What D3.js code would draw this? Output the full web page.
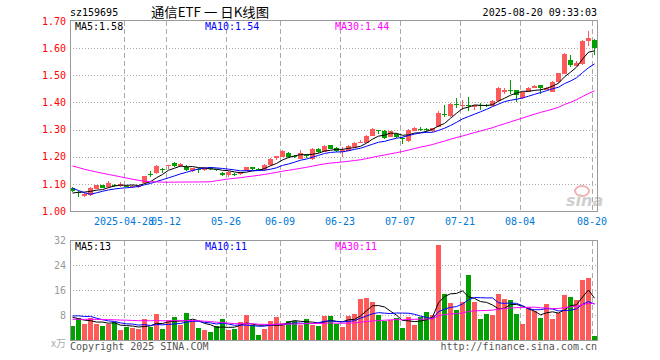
<!DOCTYPE html>
<html><head><meta charset="utf-8">
<script src="https://cdn.jsdelivr.net/npm/d3@7"></script>
<style>
body{margin:0;background:#fff;}
svg{display:block;}
text{font-family:"DejaVu Sans Mono","Liberation Mono",monospace;font-size:10px;}
</style>
</head><body>
<svg id="chart" width="660" height="360"></svg>
<script>
// ---------- data ----------
const dates = ["04-15","04-16","04-17","04-18","04-21","04-22","04-23","04-24","04-25","04-28","04-29","04-30",
"05-06","05-07","05-08","05-09","05-12","05-13","05-14","05-15","05-16","05-19","05-20","05-21","05-22","05-23",
"05-26","05-27","05-28","05-29","05-30","06-03","06-04","06-05","06-06","06-09","06-10","06-11","06-12","06-13",
"06-16","06-17","06-18","06-19","06-20","06-23","06-24","06-25","06-26","06-27","06-30","07-01","07-02","07-03",
"07-04","07-07","07-08","07-09","07-10","07-11","07-14","07-15","07-16","07-17","07-18","07-21","07-22","07-23",
"07-24","07-25","07-28","07-29","07-30","07-31","08-01","08-04","08-05","08-06","08-07","08-08","08-11","08-12",
"08-13","08-14","08-15","08-18","08-19","08-20"];
const opens = [1.085,1.070,1.056,1.060,1.082,1.094,1.087,1.096,1.091,1.093,1.088,1.088,
1.102,1.138,1.140,1.154,1.166,1.176,1.166,1.163,1.148,1.153,1.151,1.161,1.153,1.141,
1.133,1.138,1.135,1.151,1.161,1.155,1.151,1.168,1.197,1.200,1.213,1.204,1.192,1.206,
1.191,1.228,1.219,1.242,1.231,1.219,1.222,1.235,1.254,1.252,1.277,1.299,1.295,1.274,
1.284,1.270,1.258,1.296,1.302,1.301,1.293,1.311,1.356,1.350,1.393,1.386,1.390,1.383,
1.392,1.391,1.388,1.405,1.440,1.447,1.445,1.415,1.440,1.455,1.465,1.447,1.440,1.475,
1.506,1.557,1.536,1.541,1.625,1.631];
const highs = [1.090,1.073,1.068,1.087,1.097,1.096,1.110,1.099,1.106,1.095,1.094,1.095,
1.130,1.146,1.170,1.160,1.171,1.179,1.178,1.168,1.160,1.160,1.163,1.163,1.156,1.145,
1.148,1.141,1.143,1.163,1.161,1.158,1.172,1.197,1.204,1.225,1.218,1.208,1.223,1.211,
1.232,1.231,1.242,1.245,1.234,1.234,1.242,1.255,1.262,1.280,1.305,1.300,1.297,1.296,
1.287,1.272,1.301,1.310,1.308,1.307,1.306,1.368,1.391,1.398,1.416,1.410,1.420,1.392,
1.397,1.393,1.408,1.458,1.452,1.483,1.447,1.440,1.456,1.463,1.466,1.458,1.480,1.510,
1.582,1.576,1.552,1.631,1.662,1.633];
const lows = [1.070,1.053,1.052,1.057,1.080,1.083,1.085,1.088,1.089,1.087,1.086,1.085,
1.100,1.124,1.135,1.140,1.153,1.163,1.163,1.146,1.144,1.141,1.149,1.152,1.147,1.130,
1.126,1.128,1.133,1.149,1.149,1.148,1.149,1.165,1.188,1.198,1.195,1.196,1.190,1.196,
1.189,1.212,1.217,1.228,1.219,1.200,1.220,1.233,1.250,1.250,1.275,1.282,1.265,1.272,
1.270,1.246,1.256,1.294,1.293,1.292,1.291,1.309,1.345,1.347,1.380,1.372,1.370,1.372,
1.373,1.385,1.386,1.403,1.430,1.430,1.400,1.412,1.438,1.452,1.430,1.444,1.438,1.473,
1.504,1.532,1.533,1.538,1.609,1.576];
const closes = [1.075,1.066,1.064,1.084,1.095,1.085,1.103,1.094,1.100,1.091,1.092,1.093,
1.128,1.135,1.165,1.152,1.171,1.165,1.175,1.151,1.157,1.151,1.160,1.154,1.151,1.133,
1.145,1.136,1.141,1.161,1.156,1.154,1.170,1.192,1.204,1.220,1.199,1.200,1.215,1.203,
1.228,1.218,1.240,1.230,1.221,1.226,1.238,1.252,1.256,1.277,1.301,1.293,1.270,1.293,
1.273,1.266,1.299,1.305,1.299,1.298,1.304,1.360,1.352,1.394,1.390,1.392,1.386,1.391,
1.388,1.387,1.405,1.453,1.444,1.443,1.428,1.437,1.453,1.461,1.453,1.455,1.477,1.508,
1.578,1.539,1.547,1.625,1.637,1.600];
const volumes = [4.5,6.9,5.1,7.1,5.1,4.5,5.1,5.9,3.2,4.3,3.8,3.6,
6.7,4.2,8.3,3.5,6.4,7.4,4.8,8.6,6.2,3.8,3.2,2.6,4.5,6.7,
3.2,3.5,5.8,8.0,4.8,1.6,3.5,6.1,7.4,5.4,6.1,6.1,4.9,6.7,
4.9,4.5,7.7,7.7,5.1,4.2,7.7,8.3,13.2,13.4,12.2,8.0,6.1,6.4,
7.0,3.8,7.4,4.8,7.4,9.0,8.0,30.4,14.7,11.8,9.6,12.2,20.8,12.2,
6.7,8.3,8.0,14.7,13.1,12.8,8.3,5.1,10.6,9.3,7.0,11.5,6.7,8.6,
14.4,13.8,12.8,19.2,19.8,1.3];
// sessions before the visible window (only used to warm up the moving averages)
const priorCloses = [1.245,1.252,1.240,1.238,1.226,1.231,1.222,1.235,1.228,1.219,1.221,1.215,
1.198,1.186,1.180,1.172,1.165,1.160,1.152,1.151,1.150,1.152,1.138,1.040,1.030,1.052,1.060,1.072,1.072];
const priorVolumes = [5.8,6.4,5.5,6.9,6.2,5.6,7.1,6.0,5.4,6.3,5.9,6.6,5.2,6.1,5.7,6.8,5.5,6.0,6.4,5.6,
6.5,7.2,6.8,10.9,9.3,9.0,7.6,7.8,7.4];

const priceTicks = [1.00,1.10,1.20,1.30,1.40,1.50,1.60,1.70];
const volTicks = [8,16,24,32];
const dateTicks = ["04-28","05-12","05-26","06-09","06-23","07-07","07-21","08-04","08-20"];
const dateTickLabels = ["2025-04-28","05-12","05-26","06-09","06-23","07-07","07-21","08-04","08-20"];
const maPeriods = [5,10,30];
const maColors = ["#000000","#0000ff","#ff00ff"];
const priceMaLabels = ["MA5:1.58","MA10:1.54","MA30:1.44"];
const volMaLabels = ["MA5:13","MA10:11","MA30:11"];

// ---------- drawing ----------
const svg = d3.select("#chart");
const L = 70, R = 597;
const x = d3.scaleBand().domain(dates).range([L, R]).paddingInner(1/6).paddingOuter(0);
const yP = d3.scaleLinear().domain([1.0, 1.7]).range([211, 21]);
const yV = d3.scaleLinear().domain([0, 32]).range([340, 240]);
const RED = "#ff5a5a", GREEN = "#00a000";

function movingAvg(prior, vals, p) {
  const all = prior.concat(vals);
  const off = prior.length;
  return vals.map((v, i) => d3.mean(all.slice(off + i - p + 1, off + i + 1)));
}

// titles
svg.append("text").attr("x", 70).attr("y", 16).attr("fill", "#000").text("sz159695");
svg.append("text").attr("x", 151).attr("y", 17)
  .style("font-family", "'Noto Sans CJK SC',sans-serif").style("font-size", "13px")
  .attr("textLength", 118).attr("lengthAdjust", "spacingAndGlyphs")
  .attr("fill", "#000").text("通信ETF 一 日K线图");
svg.append("text").attr("x", 597).attr("y", 16).attr("text-anchor", "end").attr("fill", "#000")
  .text("2025-08-20 09:33:03");

// grid helpers
function vGrid(y0, y1) {
  svg.append("g").selectAll("line").data(dateTicks).join("line")
    .attr("x1", d => x(d) + 0.5).attr("x2", d => x(d) + 0.5)
    .attr("y1", y0).attr("y2", y1)
    .attr("stroke", "#aaa").attr("stroke-dasharray", "5,3");
}
// price grid
svg.append("g").selectAll("line").data(priceTicks.slice(1, -1)).join("line")
  .attr("x1", L).attr("x2", R).attr("y1", d => Math.round(yP(d)) + 0.5).attr("y2", d => Math.round(yP(d)) + 0.5)
  .attr("stroke", "#aaa").attr("stroke-dasharray", "1,2");
vGrid(21, 211);
// volume grid
svg.append("g").selectAll("line").data(volTicks.slice(0, -1)).join("line")
  .attr("x1", L).attr("x2", R).attr("y1", d => Math.round(yV(d)) + 0.5).attr("y2", d => Math.round(yV(d)) + 0.5)
  .attr("stroke", "#aaa").attr("stroke-dasharray", "1,2");
vGrid(241, 340);

// watermark
const wm = svg.append("g");
wm.append("ellipse").attr("cx", 582).attr("cy", 191).attr("rx", 7).attr("ry", 5)
  .attr("fill", "none").attr("stroke", "#f2b0b0").attr("stroke-width", 2);
wm.append("text").attr("x", 566).attr("y", 206)
  .style("font-family", "'DejaVu Sans',sans-serif").style("font-size", "16px")
  .style("font-style", "italic").style("font-weight", "bold")
  .attr("fill", "#cfcfcf").text("sina");

// price axis labels
const ax = svg.append("g").attr("transform", `translate(${L},0)`)
  .call(d3.axisLeft(yP).tickValues(priceTicks).tickFormat(d3.format(".2f")).tickSize(0).tickPadding(4));
ax.select(".domain").remove();
ax.selectAll("text").attr("fill", "#ff0000").style("font-family", "'DejaVu Sans Mono',monospace").style("font-size", "10px");

const vax = svg.append("g").attr("transform", `translate(${L},0)`)
  .call(d3.axisLeft(yV).tickValues(volTicks).tickFormat(d3.format("d")).tickSize(0).tickPadding(4));
vax.select(".domain").remove();
vax.selectAll("text").attr("fill", "#999").style("font-family", "'DejaVu Sans Mono',monospace").style("font-size", "10px");

// date labels
svg.append("g").selectAll("text").data(dateTicks).join("text")
  .attr("x", d => x(d)).attr("y", 225).attr("text-anchor", "middle")
  .attr("fill", "#0078d7").text((d, i) => dateTickLabels[i]);

// candles
const bw = x.bandwidth();
const cg = svg.append("g").attr("shape-rendering", "crispEdges");
dates.forEach((d, i) => {
  const o = opens[i], c = closes[i];
  const col = c >= o ? RED : GREEN;
  const x0 = Math.round(x(d));
  cg.append("rect").attr("x", x0 + 2).attr("width", 1)
    .attr("y", yP(highs[i])).attr("height", Math.max(1, yP(lows[i]) - yP(highs[i]))).attr("fill", col);
  const top = yP(Math.max(o, c)), bot = yP(Math.min(o, c));
  cg.append("rect").attr("x", x0).attr("width", Math.round(bw))
    .attr("y", top).attr("height", Math.max(1, bot - top)).attr("fill", col);
  // volume bar
  cg.append("rect").attr("x", x0).attr("width", Math.round(bw))
    .attr("y", yV(volumes[i])).attr("height", yV(0) - yV(volumes[i])).attr("fill", col);
});

// moving averages
const cx = d => x(d) + 2.5;
maPeriods.forEach((p, k) => {
  const m = movingAvg(priorCloses, closes, p);
  svg.append("path").datum(m)
    .attr("d", d3.line().x((v, i) => cx(dates[i])).y(v => yP(v)))
    .attr("fill", "none").attr("stroke", maColors[k]).attr("stroke-width", 1);
  const mv = movingAvg(priorVolumes, volumes, p);
  svg.append("path").datum(mv)
    .attr("d", d3.line().x((v, i) => cx(dates[i])).y(v => yV(v)))
    .attr("fill", "none").attr("stroke", maColors[k]).attr("stroke-width", 1);
});

// frames
svg.append("rect").attr("x", L + 0.5).attr("y", 20.5).attr("width", R - L).attr("height", 191)
  .attr("fill", "none").attr("stroke", "#999");
svg.append("rect").attr("x", L + 0.5).attr("y", 240.5).attr("width", R - L).attr("height", 100)
  .attr("fill", "none").attr("stroke", "#999");

// MA legends
const legX = [75, 205, 335];
priceMaLabels.forEach((t, k) => svg.append("text").attr("x", legX[k]).attr("y", 30).attr("fill", maColors[k]).text(t));
volMaLabels.forEach((t, k) => svg.append("text").attr("x", legX[k]).attr("y", 250).attr("fill", maColors[k]).text(t));

// footer
svg.append("text").attr("x", 66).attr("y", 347).attr("text-anchor", "end").attr("fill", "#aaa")
  .style("font-family", "'Noto Sans CJK SC',sans-serif").style("font-size", "10px").text("x万");
svg.append("text").attr("x", 70).attr("y", 350).attr("fill", "#555").text("Copyright 2025 SINA.COM");
svg.append("text").attr("x", 597).attr("y", 350).attr("text-anchor", "end").attr("fill", "#555").text("http://finance.sina.com.cn");
</script>
</body></html>
